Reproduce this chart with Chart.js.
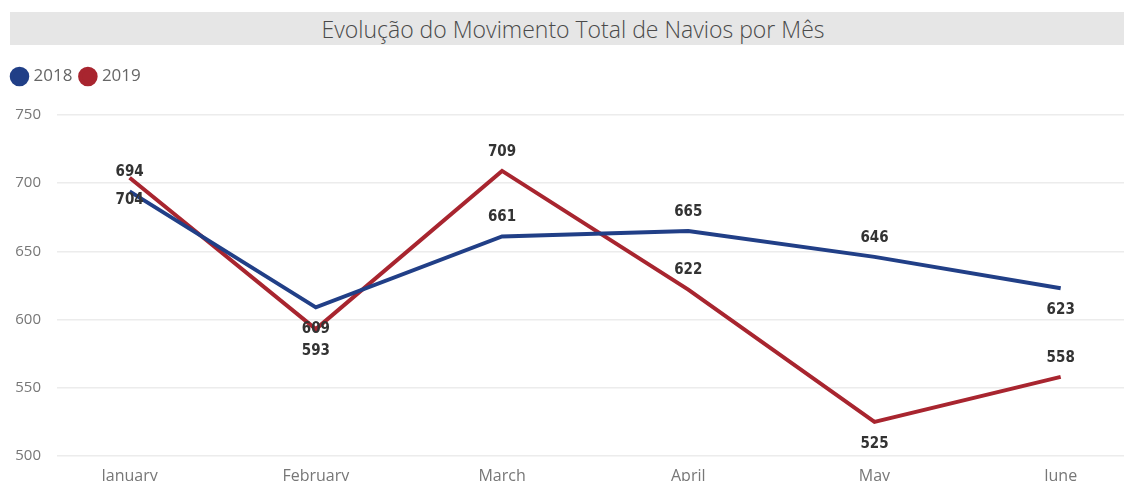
<!DOCTYPE html>
<html lang="pt">
<head>
  <meta charset="UTF-8" />
  <title>Movimento de Navios</title>
  <script src="https://cdn.jsdelivr.net/npm/chart.js"></script>
  <style>
    html, body { margin: 0; padding: 0; background: #fff; }
    #wrap { position: relative; width: 1124px; height: 481px; overflow: hidden; }
    #titleBar {
      position: absolute; left: 10px; top: 12px; width: 1102px; height: 33px;
      padding-left: 12px;
      background: #e6e6e6; color: #4a4a4a; text-align: center;
      font: 300 23px "Open Sans", sans-serif; line-height: 35px;
    }
    #navios { position: absolute; left: 0; top: 0; }
  </style>
</head>
<body>
  <div id="wrap">
    <canvas id="navios" width="1124" height="481"></canvas>
    <div id="titleBar">Evolução do Movimento Total de Navios por Mês</div>
  </div>

  <script>
    // data
    const months = ["January", "February", "March", "April", "May", "June"];
    const values2018 = [694, 609, 661, 665, 646, 623];
    const values2019 = [704, 593, 709, 622, 525, 558];
    const yTicks = [500, 550, 600, 650, 700, 750];

    // where each data label sits relative to its point
    const labelPos2018 = ["above", "below", "above", "above", "above", "below"];
    const labelPos2019 = ["below", "below", "above", "above", "below", "above"];

    const blue = "#213f87";
    const red = "#a8252f";

    const pointLabels = {
      id: "pointLabels",
      afterDatasetsDraw(chart) {
        const ctx = chart.ctx;
        ctx.save();
        ctx.font = "600 15px 'DejaVu Sans Condensed', 'DejaVu Sans', sans-serif";
        ctx.fillStyle = "#333";
        ctx.textAlign = "center";
        ctx.textBaseline = "middle";
        chart.data.datasets.forEach((ds, di) => {
          const meta = chart.getDatasetMeta(di);
          meta.data.forEach((pt, i) => {
            const dy = ds.labelPos[i] === "above" ? -19 : 22;
            ctx.fillText(String(ds.data[i].y), pt.x, pt.y + dy);
          });
        });
        ctx.restore();
      }
    };

    // push the plot area down below the legend
    const legendSpace = {
      id: "legendSpace",
      beforeInit(chart) {
        const fit = chart.legend.fit;
        chart.legend.fit = function () {
          fit.bind(chart.legend)();
          this.height += 20;
        };
      }
    };

    new Chart(document.getElementById("navios"), {
      type: "line",
      data: {
        datasets: [
          {
            label: "2018",
            data: values2018.map((v, i) => ({ x: i, y: v })),
            labelPos: labelPos2018,
            borderColor: blue,
            backgroundColor: blue,
            borderWidth: 4,
            pointRadius: 0,
            tension: 0
          },
          {
            label: "2019",
            data: values2019.map((v, i) => ({ x: i, y: v })),
            labelPos: labelPos2019,
            borderColor: red,
            backgroundColor: red,
            borderWidth: 4,
            pointRadius: 0,
            tension: 0
          }
        ]
      },
      options: {
        responsive: false,
        animation: false,
        maintainAspectRatio: false,
        devicePixelRatio: 1,
        layout: { padding: { top: 58, left: 4, right: 0, bottom: 0 } },
        plugins: {
          title: { display: false },
          tooltip: { enabled: false },
          legend: {
            position: "top",
            align: "start",
            labels: {
              usePointStyle: true,
              pointStyle: "circle",
              boxWidth: 11,
              boxHeight: 11,
              padding: 10,
              color: "#666",
              font: { family: "'Open Sans', sans-serif", size: 17 }
            }
          }
        },
        scales: {
          x: {
            type: "linear",
            min: -0.39,
            max: 5.34,
            afterBuildTicks: (s) => { s.ticks = months.map((_, i) => ({ value: i })); },
            afterFit: (s) => { s.height = 25; },
            grid: { display: false },
            border: { display: false },
            ticks: {
              padding: 3,
              color: "#777",
              font: { family: "'Open Sans', sans-serif", size: 16 },
              callback: (v) => months[v]
            }
          },
          y: {
            min: 500,
            max: 750,
            afterBuildTicks: (s) => { s.ticks = yTicks.map(v => ({ value: v })); },
            afterFit: (s) => { s.width = 53; },
            grid: { color: "#ececec", lineWidth: 1.5, drawTicks: false },
            border: { display: false },
            ticks: {
              padding: 16,
              color: "#777",
              font: { family: "'Open Sans', sans-serif", size: 15 }
            }
          }
        }
      },
      plugins: [pointLabels, legendSpace]
    });
  </script>
</body>
</html>
